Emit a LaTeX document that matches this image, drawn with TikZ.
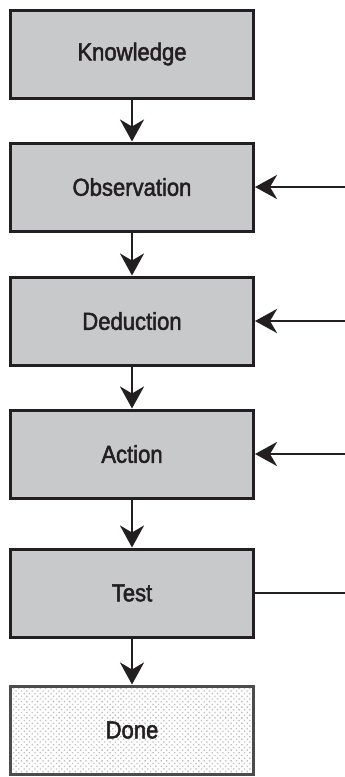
\documentclass[tikz,border=0pt]{standalone}
\usepackage{fontspec}
\setmainfont{Liberation Sans}[FakeStretch=0.9,FakeBold=2]
\usepackage{tikz}
\usetikzlibrary{arrows.meta, patterns.meta}

\definecolor{boxgray}{RGB}{200,201,203}
\definecolor{ink}{RGB}{35,31,32}

\tikzset{
  stage/.style={draw=ink, line width=3pt, fill=boxgray, minimum width=243pt,
    minimum height=88pt, font=\fontsize{24.5}{28}\selectfont, text=ink},
  donebox/.style={stage, fill=none, draw=black!70,
    pattern={Dots[angle=45, distance=3.8pt, radius=0.95pt]}, pattern color=black!25},
  flow/.style={draw=ink, line width=2.7pt, -{Stealth[length=22pt, width=24pt, inset=7pt]}}
}

\begin{document}
\begin{tikzpicture}[x=1pt, y=-1pt]

  \useasboundingbox (0,0) rectangle (345,777);

  % Stages
  \node[stage] (know) at (132,54) {Knowledge};
  \node[stage] (obs) at (132,187) {Observation};
  \node[stage] (ded) at (132,321) {Deduction};
  \node[stage] (act) at (132,454) {Action};
  \node[stage] (test) at (132,593) {Test};
  \node[donebox] (done) at (132,730) {Done};

  % Feedback line ends
  \coordinate (fobs) at (346,187);
  \coordinate (fded) at (346,321);
  \coordinate (fact) at (346,454);
  \coordinate (ftest) at (346,593);

  % Downward flow
  \draw[flow] (know) -- (obs);
  \draw[flow] (obs) -- (ded);
  \draw[flow] (ded) -- (act);
  \draw[flow] (act) -- (test);
  \draw[flow] (test) -- (done);

  % Feedback from the right
  \draw[flow] (fobs) -- (obs);
  \draw[flow] (fded) -- (ded);
  \draw[flow] (fact) -- (act);
  \draw[draw=ink, line width=2.7pt] (test) -- (ftest);

\end{tikzpicture}
\end{document}
